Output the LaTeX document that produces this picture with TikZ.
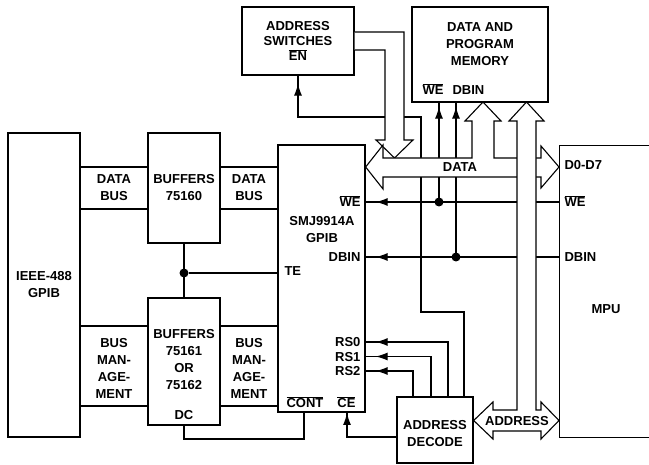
\documentclass[tikz,border=0pt]{standalone}
\usepackage{fontspec}
\setmainfont{Liberation Sans}
\usetikzlibrary{arrows.meta,decorations.markings}
\newcommand{\ovl}[1]{$\overline{\mbox{#1}}$}
\begin{document}
\begin{tikzpicture}[x=1pt,y=-1pt, line width=1.1pt,
  txt/.style={font=\fontsize{13}{17}\selectfont\bfseries},
  box/.style={draw, line width=1.3pt, rectangle, inner sep=0pt, align=center, txt},
  lbl/.style={inner sep=0pt, align=center, txt},
  pin/.style={inner sep=0pt, txt, text height=9.3pt, text depth=0pt},
  bus/.style={draw, fill=white, line width=1.1pt, line join=miter},
  tipat/.style={postaction={decorate}, decoration={markings, mark=at position -#1 with {\arrow{Latex[length=12pt,width=8pt]}}}},
  jdot/.style={circle, fill, inner sep=0pt, minimum size=9pt}]
\useasboundingbox (0,0) rectangle (649,465);
\clip (0,0) rectangle (649,465);

% boxes
\node[box, minimum width=72, minimum height=304] (ieee) at (44,285) {IEEE-488\\GPIB};
\node[box, minimum width=72, minimum height=110] (bufA) at (184,188) {BUFFERS\\75160};
\node[box, minimum width=72, minimum height=127] (bufB) at (184,361.5) {};
\node[box, minimum width=87, minimum height=267] (smj) at (321.5,278.5) {};
\node[box, minimum width=112, minimum height=68, font=\fontsize{13}{15}\selectfont\bfseries] (sw) at (298,41) {ADDRESS\\SWITCHES\\\ovl{EN}};
\node[box, minimum width=136, minimum height=95] (mem) at (480,54.5) {};
\node[box, minimum width=76, minimum height=66] (dec) at (435,430) {};
\node[box, minimum width=130, minimum height=292, anchor=north west] (mpu) at (559,145) {};

% texts inside boxes
\node[lbl] (bufBt) at (184,360) {BUFFERS\\75161\\OR\\75162};
\node[pin] (dc) at (184,415) {DC};
\node[lbl] (smjt) at (322,230) {SMJ9914A\\GPIB};
\node[pin, anchor=east] (smjwe) at (361,202) {\ovl{WE}};
\node[pin, anchor=east] (smjdbin) at (361,257) {DBIN};
\node[pin, anchor=west] (smjte) at (284,271) {TE};
\node[pin, anchor=east] (rs0) at (361,342) {RS0};
\node[pin, anchor=east] (rs1) at (361,356.5) {RS1};
\node[pin, anchor=east] (rs2) at (361,371) {RS2};
\node[pin, anchor=west] (cont) at (286,403) {\ovl{CONT}};
\node[pin, anchor=east] (ce) at (356,403) {\ovl{CE}};
\node[lbl] (memt) at (480,44) {DATA AND\\PROGRAM\\MEMORY};
\node[pin, anchor=west] (memwe) at (422,90) {\ovl{WE}};
\node[pin, anchor=west] (memdbin) at (452,90) {DBIN};
\node[lbl] (dect) at (435,434) {ADDRESS\\DECODE};
\node[pin] (mput) at (606,309) {MPU};
\node[pin, anchor=west] (mpud) at (564,165) {D0-D7};
\node[pin, anchor=west] (mpuwe) at (564,202) {\ovl{WE}};
\node[pin, anchor=west] (mpudbin) at (564,257) {DBIN};

% bus labels between boxes
\node[lbl] (dbL) at (114,188) {DATA\\BUS};
\node[lbl] (dbR) at (249,188) {DATA\\BUS};
\node[lbl] (bmL) at (114,368) {BUS\\MAN-\\AGE-\\MENT};
\node[lbl] (bmR) at (249,368) {BUS\\MAN-\\AGE-\\MENT};

% plain connections
\foreach \yy in {167,209} {
  \draw (ieee.east |- 0,\yy) -- (bufA.west |- 0,\yy);
  \draw (bufA.east |- 0,\yy) -- (smj.west |- 0,\yy);
}
\foreach \yy in {326,406} {
  \draw (ieee.east |- 0,\yy) -- (bufB.west |- 0,\yy);
  \draw (bufB.east |- 0,\yy) -- (smj.west |- 0,\yy);
}
\node[jdot] (teD) at (184,273) {};
\draw (bufA.south) -- (bufB.north);
\draw (teD) -- (smj.west |- teD);
\coordinate (cpin) at (304,412);
\draw (bufB.south) -- (184,439) -| (cpin);
\coordinate (cepin) at (347,412);
\draw[tipat=1pt] (dec.west |- 0,437) -| (cepin);

% control lines
\coordinate (weD) at (439,202);
\coordinate (dbD) at (456,257);
\draw[tipat=10pt] (mpu.west |- weD) -- (smj.east |- weD);
\draw[tipat=10pt] (mpu.west |- dbD) -- (smj.east |- dbD);
\draw[tipat=4pt] (weD) -- (mem.south -| weD);
\draw[tipat=4pt] (dbD) -- (mem.south -| dbD);
\draw[tipat=10pt] (dec.north -| 448,0) |- (rs0.east -| smj.east);
\draw[tipat=10pt] (dec.north -| 431,0) |- (rs1.east -| smj.east);
\draw[tipat=10pt] (dec.north -| 413,0) |- (rs2.east -| smj.east);
\draw[tipat=8pt] (dec.north -| 464,0) |- (421,312) |- (298,117) -- (sw.south);

% buses
\draw[bus] (sw.east |- 0,32) -- (404,32) -- (404,140) -- (413,140) -- (394.5,158)
  -- (376,140) -- (385,140) -- (385,50) -- (sw.east |- 0,50);
\draw[bus] (smj.east |- 0,167) -- (383,145) -- (383,158) -- (472,158) -- (472,121)
  -- (465,121) -- (483,102) -- (501,121) -- (494,121) -- (494,158) -- (541,158)
  -- (541,146) -- (mpu.west |- 0,167) -- (541,188) -- (541,177) -- (383,177)
  -- (383,189) -- cycle;
\draw[bus] (526.5,102) -- (544,121) -- (536,121) -- (536,410) -- (541,410)
  -- (541,402) -- (mpu.west |- 0,420.5) -- (541,439) -- (541,431) -- (493,431)
  -- (493,439) -- (dec.east |- 0,420.5) -- (493,402) -- (493,410) -- (517,410)
  -- (517,121) -- (509,121) -- cycle;
\node[pin] (datat) at (460,167) {DATA};
\node[pin] (addrt) at (517,420.5) {ADDRESS};

\node[jdot] (weDot) at (weD) {};
\node[jdot] (dbDot) at (dbD) {};
\end{tikzpicture}
\end{document}
